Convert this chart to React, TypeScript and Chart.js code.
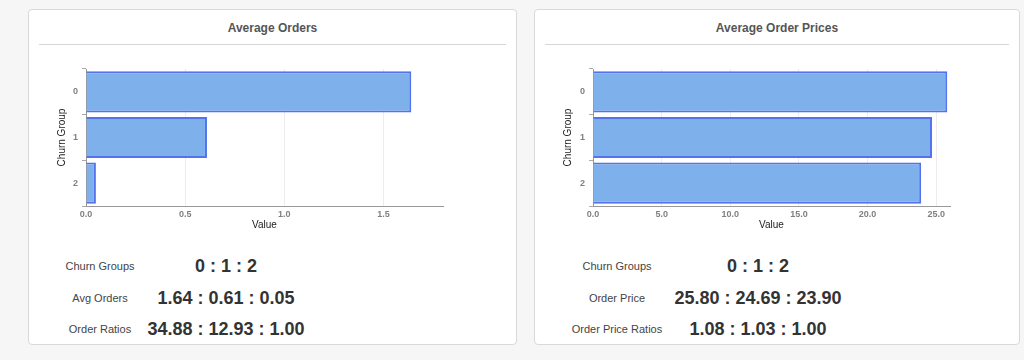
import React, { useEffect, useRef } from "react";
import { Chart, registerables } from "chart.js";

Chart.register(...registerables);

const churnGroups = ["0", "1", "2"];
const avgOrders = [1.64, 0.61, 0.05];
const avgOrderPrices = [25.8, 24.69, 23.9];
const orderRatios = [34.88, 12.93, 1.0];
const priceRatios = [1.08, 1.03, 1.0];

const FONT = "'Liberation Sans', Arial, Helvetica, sans-serif";

type ChartProps = {
  values: number[];
  max: number;
  step: number;
  padLeft: number;
  yWidth: number;
  padRight: number;
};

function BarChart({ values, max, step, padLeft, yWidth, padRight }: ChartProps) {
  const ref = useRef<HTMLCanvasElement | null>(null);
  useEffect(() => {
    if (!ref.current) return;
    const chart = new Chart(ref.current, {
      type: "bar",
      data: {
        labels: churnGroups,
        datasets: [
          {
            data: values,
            backgroundColor: "rgba(126,177,236,1)",
            borderColor: "rgba(74,108,236,0.95)",
            borderWidth: 2,
            barPercentage: 0.9,
            categoryPercentage: 1,
          },
        ],
      },
      options: {
        indexAxis: "y",
        animation: false,
        responsive: false,
        maintainAspectRatio: false,
        layout: { padding: { left: padLeft, right: padRight, top: 13, bottom: 0 } },
        plugins: { legend: { display: false }, tooltip: { enabled: false } },
        scales: {
          x: {
            type: "linear",
            min: 0,
            max: max,
            afterFit: (s: any) => {
              s.height = 26;
            },
            afterBuildTicks: (s: any) => {
              const t: any[] = [];
              for (let i = 0; i * step <= max + 1e-9; i++) t.push({ value: i * step });
              s.ticks = t;
            },
            ticks: {
              padding: 3,
              color: "#808080",
              font: { family: FONT, size: 9, weight: "bold" },
              callback: (v: any) => Number(v).toFixed(1),
            },
            grid: { color: "#ececec", tickLength: 0 },
            border: { color: "#999", width: 1 },
            title: {
              display: true,
              text: "Value",
              color: "#222",
              font: { family: FONT, size: 10 },
              padding: { top: 0, bottom: 1 },
            },
          },
          y: {
            afterFit: (s: any) => {
              s.width = yWidth;
            },
            ticks: {
              padding: 4,
              color: "#808080",
              font: { family: FONT, size: 9, weight: "bold" },
            },
            grid: { drawOnChartArea: false, tickLength: 4, color: "#aaa" },
            border: { color: "#999", width: 1 },
            title: {
              display: true,
              text: "Churn Group",
              color: "#222",
              font: { family: FONT, size: 10 },
              padding: { top: 2, bottom: 0 },
            },
          },
        },
      } as any,
    });
    return () => chart.destroy();
  }, []);
  return <canvas ref={ref} width={420} height={176} style={{ width: 420, height: 176, display: "block" }} />;
}

type StatRow = { label: string; value: string };

function Card({
  left,
  width,
  title,
  chart,
  rows,
  labelCenter,
  valueCenter,
}: {
  left: number;
  width: number;
  title: string;
  chart: React.ReactNode;
  rows: StatRow[];
  labelCenter: number;
  valueCenter: number;
}) {
  const rowY = [265, 296.5, 328];
  return (
    <div
      style={{
        position: "absolute",
        left,
        top: 9,
        width,
        height: 336,
        boxSizing: "border-box",
        background: "#fff",
        border: "1px solid #d9d9d9",
        borderRadius: 4,
      }}
    >
      <div
        style={{
          position: "absolute",
          left: 0,
          right: 0,
          top: 10,
          textAlign: "center",
          fontFamily: FONT,
          fontWeight: "bold",
          fontSize: 12,
          lineHeight: "16px",
          color: "#555",
        }}
      >
        {title}
      </div>
      <div
        style={{
          position: "absolute",
          left: 10,
          right: 10,
          top: 34,
          height: 1,
          background: "#d6d6d6",
        }}
      />
      <div style={{ position: "absolute", left: 11, top: 46 }}>{chart}</div>
      {rows.map((r, i) => (
        <React.Fragment key={i}>
          <div
            style={{
              position: "absolute",
              left: labelCenter - 100,
              width: 200,
              top: rowY[i] - 9 - 10,
              height: 20,
              lineHeight: "20px",
              textAlign: "center",
              fontFamily: FONT,
              fontSize: 11,
              color: "#444",
            }}
          >
            {r.label}
          </div>
          <div
            style={{
              position: "absolute",
              left: valueCenter - 150,
              width: 300,
              top: rowY[i] - 9 - 12,
              height: 24,
              lineHeight: "24px",
              textAlign: "center",
              fontFamily: FONT,
              fontSize: 18,
              fontWeight: "bold",
              color: "#333",
            }}
          >
            {r.value}
          </div>
        </React.Fragment>
      ))}
    </div>
  );
}

const join = (arr: number[]) => arr.map((v) => v.toFixed(2)).join(" : ");

export default function App() {
  return (
    <div
      style={{
        position: "fixed",
        left: 0,
        top: 0,
        width: 1024,
        height: 360,
        background: "#f6f6f6",
        overflow: "hidden",
      }}
    >
      <Card
        left={28}
        width={489}
        title="Average Orders"
        chart={<BarChart values={avgOrders} max={1.8} step={0.5} padLeft={14} yWidth={32} padRight={17} />}
        rows={[
          { label: "Churn Groups", value: churnGroups.join(" : ") },
          { label: "Avg Orders", value: join(avgOrders) },
          { label: "Order Ratios", value: join(orderRatios) },
        ]}
        labelCenter={71}
        valueCenter={197}
      />
      <Card
        left={534}
        width={486}
        title="Average Order Prices"
        chart={<BarChart values={avgOrderPrices} max={26} step={5} padLeft={14} yWidth={33} padRight={16} />}
        rows={[
          { label: "Churn Groups", value: churnGroups.join(" : ") },
          { label: "Order Price", value: join(avgOrderPrices) },
          { label: "Order Price Ratios", value: join(priceRatios) },
        ]}
        labelCenter={82}
        valueCenter={223}
      />
    </div>
  );
}
